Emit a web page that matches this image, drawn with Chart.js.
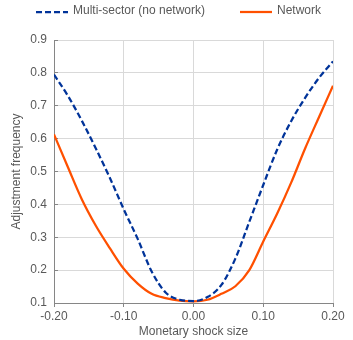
<!DOCTYPE html>
<html lang="en">
<head>
    <meta charset="UTF-8">
    <title>Adjustment frequency</title>
    <script src="https://cdn.jsdelivr.net/npm/chart.js"></script>
    <style>
        body { margin: 0; background: #fff; }
        .wrap { position: relative; width: 353px; height: 340px; }
    </style>
</head>
<body>
    <div class="wrap">
        <canvas id="chart"></canvas>
    </div>

    <script>
        // shock sizes on the x axis
        const shockSizes = [-0.20, -0.18, -0.16, -0.14, -0.12, -0.10, -0.08, -0.06, -0.04, -0.02, 0.00,
                            0.02, 0.04, 0.06, 0.08, 0.10, 0.12, 0.14, 0.16, 0.18, 0.20];
        const multiSector = [0.795, 0.730, 0.654, 0.570, 0.481, 0.385, 0.295, 0.196, 0.132, 0.110, 0.106,
                             0.118, 0.155, 0.235, 0.347, 0.459, 0.567, 0.653, 0.724, 0.785, 0.835];
        const network = [0.613, 0.513, 0.415, 0.335, 0.267, 0.204, 0.159, 0.128, 0.115, 0.107, 0.105,
                         0.110, 0.128, 0.151, 0.200, 0.287, 0.372, 0.466, 0.570, 0.666, 0.761];
        const seriesNames = ['Multi-sector (no network)', 'Network'];

        const FONT = 'Arial, "Liberation Sans", sans-serif';
        const TEXT = '#595959';
        const GRID = '#d9d9d9';
        const AXIS = '#868686';

        // legend drawn as short line samples above the plot
        const lineLegend = {
            id: 'lineLegend',
            afterDraw(chart, args, opts) {
                const ctx = chart.ctx;
                ctx.save();
                ctx.font = '12px ' + FONT;
                ctx.textBaseline = 'middle';
                chart.data.datasets.forEach((ds, i) => {
                    const x = opts.x[i];
                    ctx.strokeStyle = ds.borderColor;
                    ctx.lineWidth = ds.borderWidth;
                    ctx.setLineDash(ds.borderDash || []);
                    ctx.beginPath();
                    ctx.moveTo(x, opts.y + 1);
                    ctx.lineTo(x + 32, opts.y + 1);
                    ctx.stroke();
                    ctx.fillStyle = TEXT;
                    ctx.fillText(ds.label, x + 37, opts.y);
                });
                ctx.restore();
            }
        };

        const toPoints = values => values.map((v, i) => ({ x: shockSizes[i], y: v }));

        new Chart(document.getElementById('chart'), {
            type: 'line',
            data: {
                datasets: [
                    {
                        label: seriesNames[0],
                        data: toPoints(multiSector),
                        borderColor: '#003399',
                        borderWidth: 2.25,
                        borderDash: [6, 3],
                        pointRadius: 0,
                        cubicInterpolationMode: 'monotone',
                        fill: false
                    },
                    {
                        label: seriesNames[1],
                        data: toPoints(network),
                        borderColor: '#ff5000',
                        borderWidth: 2.25,
                        pointRadius: 0,
                        cubicInterpolationMode: 'monotone',
                        fill: false
                    }
                ]
            },
            options: {
                responsive: true,
                maintainAspectRatio: false,
                animation: false,
                layout: { padding: { top: 40, right: 20, bottom: 0, left: 0 } },
                plugins: {
                    legend: { display: false },
                    tooltip: { enabled: false },
                    lineLegend: { x: [36, 240], y: 11 }
                },
                scales: {
                    x: {
                        type: 'linear',
                        min: -0.2,
                        max: 0.2,
                        afterFit: scale => { scale.height = 37; },
                        ticks: {
                            stepSize: 0.1,
                            padding: 2,
                            color: TEXT,
                            font: { family: FONT, size: 12 },
                            callback: v => v.toFixed(2)
                        },
                        grid: { color: GRID, tickColor: AXIS, tickLength: 4 },
                        border: { color: AXIS },
                        title: {
                            display: true,
                            text: 'Monetary shock size',
                            color: TEXT,
                            font: { family: FONT, size: 12 },
                            padding: { top: 0, bottom: 1 }
                        }
                    },
                    y: {
                        min: 0.1,
                        max: 0.9,
                        afterFit: scale => { scale.width = 54; },
                        ticks: {
                            stepSize: 0.1,
                            padding: 11,
                            color: TEXT,
                            font: { family: FONT, size: 12 },
                            callback: v => v.toFixed(1)
                        },
                        grid: { color: GRID, tickColor: AXIS, tickLength: -4 },
                        border: { color: AXIS },
                        title: {
                            display: true,
                            text: 'Adjustment frequency',
                            color: TEXT,
                            font: { family: FONT, size: 12 },
                            padding: { top: 9, bottom: 0 }
                        }
                    }
                }
            },
            plugins: [lineLegend]
        });
    </script>
</body>
</html>
